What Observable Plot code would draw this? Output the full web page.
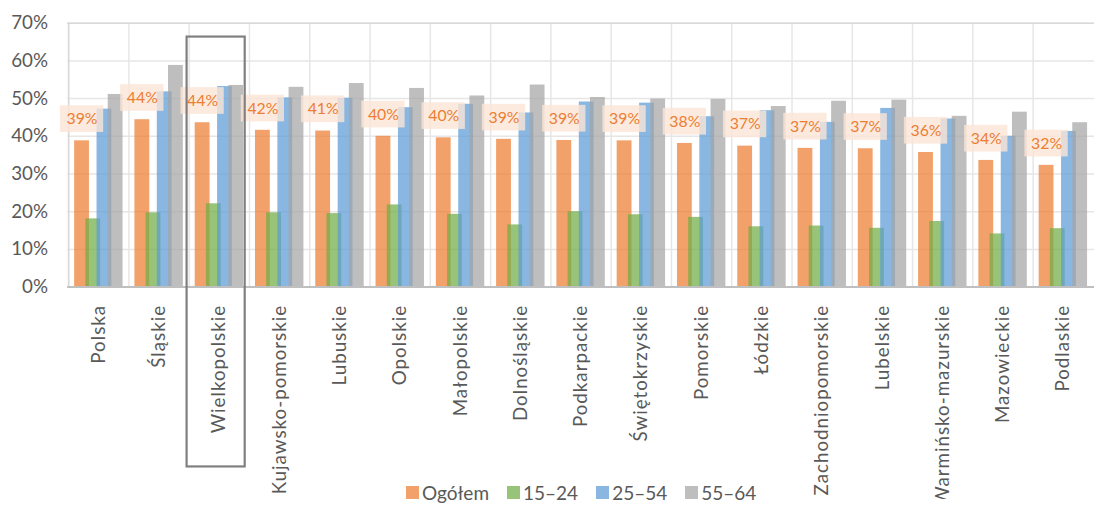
<!DOCTYPE html>
<html>
<head>
<meta charset="utf-8">
<script src="https://cdn.jsdelivr.net/npm/d3@7"></script>
<script src="https://cdn.jsdelivr.net/npm/@observablehq/plot@0.6"></script>
<style>
  html, body { margin: 0; padding: 0; background: #fff; overflow: hidden; }
  #wrap { position: relative; width: 1094px; height: 505px; overflow: hidden; font-family: Lato, sans-serif; }
  #wrap g[aria-label="x-axis tick label"] text { letter-spacing: 1px; }
  #legend { position: absolute; left: 406px; top: 481px; display: flex; gap: 18px; font-size: 19px; color: #595959; align-items: center; }
  #legend .item { display: flex; align-items: center; gap: 3px; }
  #legend .sw { width: 13px; height: 13px; display: inline-block; }
</style>
</head>
<body>
<div id="wrap"></div>
<script>
const regions = ["Polska","Śląskie","Wielkopolskie","Kujawsko-pomorskie","Lubuskie","Opolskie","Małopolskie","Dolnośląskie","Podkarpackie","Świętokrzyskie","Pomorskie","Łódzkie","Zachodniopomorskie","Lubelskie","Warmińsko-mazurskie","Mazowieckie","Podlaskie"];
const ogolem  = [38.8, 44.4, 43.6, 41.6, 41.4, 40.0, 39.6, 39.2, 38.9, 38.8, 38.1, 37.4, 36.8, 36.7, 35.7, 33.6, 32.3];
const age1524 = [18.1, 19.7, 22.1, 19.7, 19.5, 21.8, 19.3, 16.5, 20.0, 19.2, 18.5, 16.0, 16.2, 15.6, 17.4, 14.1, 15.5];
const age2554 = [47.2, 51.8, 53.2, 50.2, 50.1, 47.6, 48.5, 46.2, 49.1, 48.8, 45.2, 46.8, 43.7, 47.4, 44.6, 40.0, 41.3];
const age5564 = [51.1, 58.8, 53.5, 53.0, 54.0, 52.7, 50.7, 53.6, 50.3, 49.9, 49.8, 47.9, 49.3, 49.6, 45.3, 46.4, 43.6];
const seriesNames = ["Ogółem", "15–24", "25–54", "55–64"];
const seriesColors = ["#ED7D31", "#70AD47", "#5B9BD5", "#A5A5A5"];
const yTicks = [0, 10, 20, 30, 40, 50, 60, 70];
const highlight = ["Wielkopolskie"];

const seriesValues = [ogolem, age1524, age2554, age5564];
const offsets = [-17, -5.67, 5.67, 17];
const rows = regions.map((r, i) => ({region: r, ogolem: ogolem[i], label: Math.round(ogolem[i]) + "%"}));

const barMarks = seriesValues.map((vals, s) =>
  Plot.barY(regions.map((r, i) => ({region: r, value: vals[i]})), {
    x: "region", y: "value", fill: seriesColors[s], fillOpacity: 0.72, dx: offsets[s]
  })
);

const chart = Plot.plot({
  width: 1107,
  height: 505,
  marginLeft: 68,
  marginRight: 0,
  marginTop: 23,
  marginBottom: 215,
  style: {fontFamily: "Lato, sans-serif", color: "#595959", background: "#fff"},
  x: {domain: regions, paddingInner: 0.75, paddingOuter: 0.375, label: null},
  y: {domain: [0, 70], label: null},
  marks: [
    Plot.gridY(yTicks, {stroke: "#e6e6e6", strokeOpacity: 1, strokeWidth: 1.5}),
    Plot.gridX(regions, {dx: -30.56, stroke: "#e6e6e6", strokeOpacity: 1, strokeWidth: 1.5}),
    Plot.ruleY([70], {stroke: "#d9d9d9", strokeWidth: 1.5}),
    Plot.ruleX([regions[0]], {dx: -30.56, y1: 0, y2: 70, stroke: "#d9d9d9", strokeWidth: 1.5}),
    ...barMarks,
    Plot.barY(rows, {x: "region", y1: "ogolem", y2: "ogolem", dx: -17, dy: -22,
      insetTop: -13.5, insetBottom: -13.5, insetLeft: -14.4, insetRight: -14.4,
      fill: "#FBE5D6", fillOpacity: 0.8}),
    Plot.text(rows, {x: "region", y: "ogolem", text: "label", dx: -17, dy: -22,
      fill: "#ED7D31", fontSize: 16}),
    Plot.ruleY([0], {stroke: "#bfbfbf", strokeWidth: 2}),
    Plot.axisY({ticks: yTicks, tickFormat: d => d + "%", tickSize: 0, tickPadding: 20, fontSize: 19}),
    Plot.axisX({tickRotate: -90, tickSize: 0, tickPadding: 18, fontSize: 19, label: null}),
    Plot.barY(highlight, {x: d => d, y1: 0, y2: 70, insetTop: 14, insetBottom: -182,
      insetLeft: -25.2, insetRight: -18.6, fill: "none", stroke: "#7f7f7f", strokeWidth: 2.2})
  ]
});

const wrap = document.getElementById("wrap");
wrap.appendChild(chart);

const legend = document.createElement("div");
legend.id = "legend";
seriesNames.forEach((name, s) => {
  const item = document.createElement("div");
  item.className = "item";
  const sw = document.createElement("span");
  sw.className = "sw";
  sw.style.background = seriesColors[s];
  sw.style.opacity = 0.72;
  const t = document.createElement("span");
  t.textContent = name;
  item.appendChild(sw);
  item.appendChild(t);
  legend.appendChild(item);
});
wrap.appendChild(legend);
</script>
</body>
</html>
